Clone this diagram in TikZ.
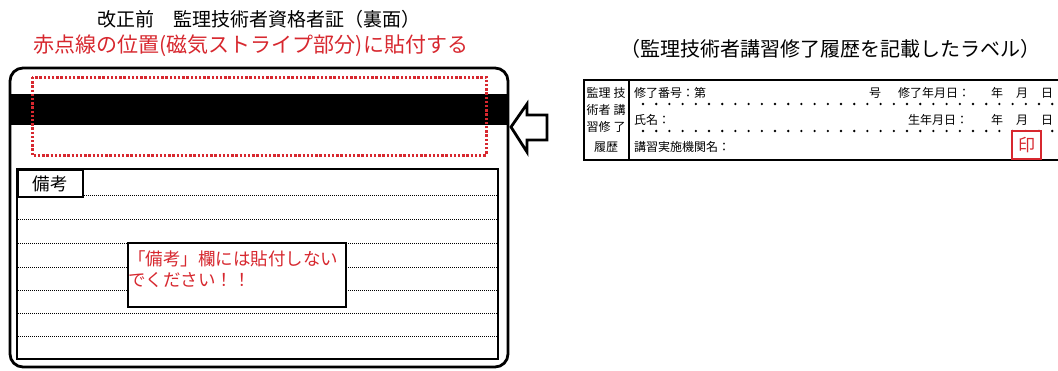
\documentclass[tikz,border=0pt]{standalone}
\usepackage{fontspec}
\setmainfont{Noto Sans CJK JP}
\definecolor{stampred}{HTML}{D7282F}
\begin{document}
\begin{tikzpicture}[x=1pt,y=-1pt,
  title/.style={inner sep=0pt,font=\fontsize{19}{21}\selectfont},
  redtitle/.style={inner sep=0pt,text=stampred,font=\fontsize{21}{23}\selectfont},
  small/.style={inner sep=0pt,font=\fontsize{12}{13}\selectfont},
  notetext/.style={inner sep=0pt,text=stampred,font=\fontsize{17.5}{19}\selectfont,align=left},
  ruleline/.style={line width=1pt,dash pattern=on 1pt off 1pt},
  tabledot/.style={fill=black,draw=none}
]
\useasboundingbox (0,0) rectangle (1058,370);

% titles
\node[title] (t1) at (259,19) {改正前　監理技術者資格者証（裏面）};
\node[redtitle] (t2) at (251,46) {赤点線の位置(磁気ストライプ部分)に貼付する};
\node[title,font=\fontsize{20}{22}\selectfont] (t3) at (830,49) {（監理技術者講習修了履歴を記載したラベル）};

% card
\fill[black] (10,94) rectangle (508,125);
\draw[line width=2.8pt,rounded corners=13pt] (10,68) rectangle (508,367);
\draw[stampred,line width=3pt,dash pattern=on 2.4pt off 1.8pt] (32,77) rectangle (486,155);

% remarks table
\draw[line width=1.8pt] (17,169) rectangle (498,359);
\foreach \yy in {219,243,267,290,313,336}
  \draw[ruleline] (18,\yy) -- (497,\yy);
\draw[ruleline] (82,195) -- (497,195);
\node[draw,line width=1.8pt,minimum width=65pt,minimum height=27pt,inner sep=0pt,anchor=north west,font=\fontsize{17.5}{19}\selectfont] (biko) at (17,169) {備考};

\node[draw,line width=1.8pt,fill=white,minimum width=218pt,minimum height=64pt,anchor=north west,inner sep=0pt] (note) at (127,242) {};
\node[notetext,anchor=north west] (notet) at (128,250) {「備考」欄には貼付しない\\[2pt]でください！！};

% arrow
\draw[line width=2.8pt,fill=white,line join=miter] (511,127) -- (527,104) -- (527,115) -- (547,115) -- (547,140) -- (527,140) -- (527,152) -- cycle;

% label table
\draw[line width=2.6pt] (1058,80) -- (584,80) -- (584,160) -- (1058,160);
\draw[line width=2.2pt] (629,80) -- (629,160);

\node[small] (l1) at (606,93) {監理\hspace{3pt}技};
\node[small] (l2) at (606,110) {術者\hspace{3pt}講};
\node[small] (l3) at (606,127) {習修\hspace{3pt}了};
\node[small] (l4) at (606,147) {履歴};

\node[small,anchor=west] (r1) at (634,93) {修了番号：第};
\node[small] (r1g) at (875,93) {号};
\node[small,anchor=west] (r1d) at (898,93) {修了年月日：};
\node[small] (r1y) at (997,93) {年};
\node[small] (r1m) at (1022,93) {月};
\node[small] (r1n) at (1047,93) {日};

\node[small,anchor=west] (r2) at (634,120) {氏名：};
\node[small,anchor=west] (r2d) at (908,120) {生年月日：};
\node[small] (r2y) at (997,120) {年};
\node[small] (r2m) at (1022,120) {月};
\node[small] (r2n) at (1047,120) {日};

\node[small,anchor=west] (r3) at (634,147) {講習実施機関名：};

\foreach \i in {0,...,31} {
  \fill[tabledot] (643+13.2*\i,104) circle (1.3);
  \fill[tabledot] (643+13.2*\i,131) circle (1.3);
}

\node[draw=stampred,line width=2.2pt,fill=white,minimum width=29pt,minimum height=28pt,inner sep=0pt,text=stampred,font=\fontsize{17}{18}\selectfont] (stamp) at (1026.5,145) {印};
\end{tikzpicture}
\end{document}
